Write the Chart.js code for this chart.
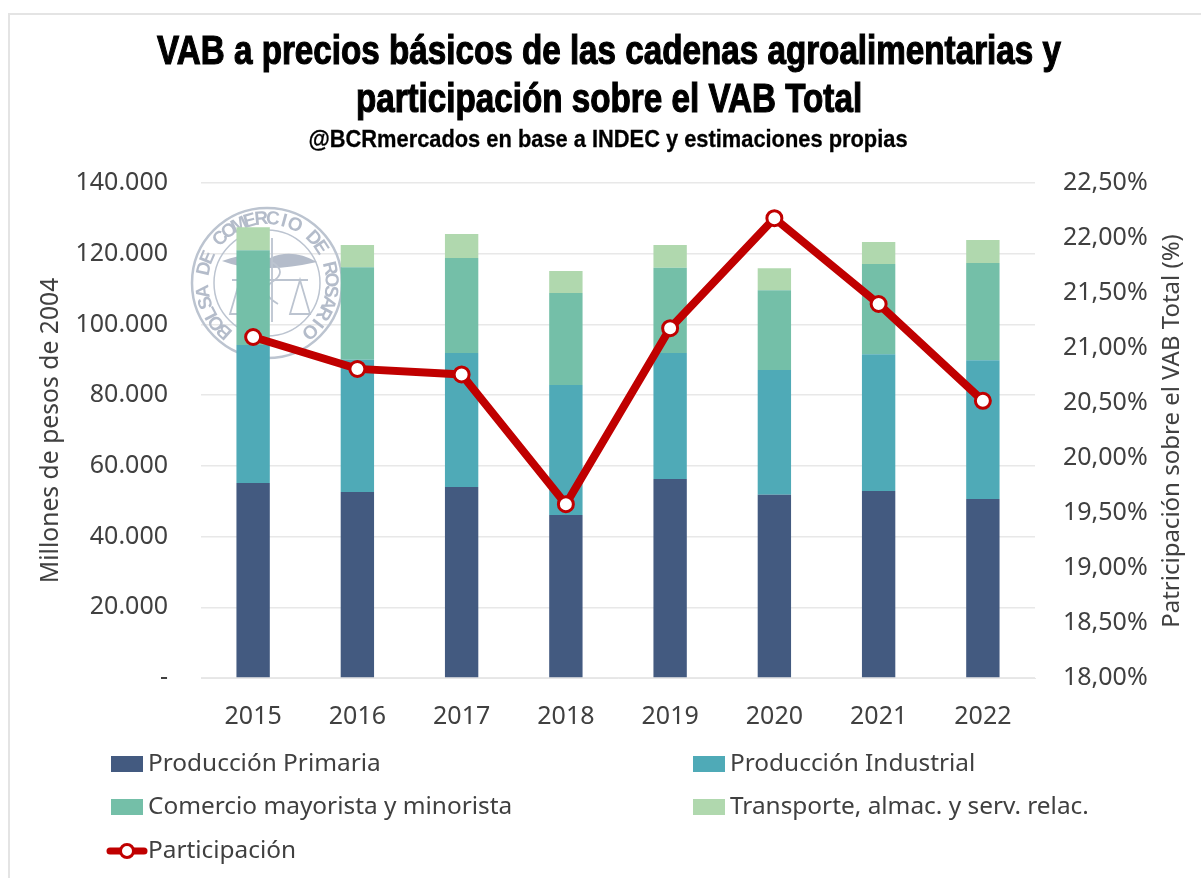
<!DOCTYPE html>
<html>
<head>
<meta charset="utf-8">
<script src="https://cdn.jsdelivr.net/npm/chart.js@4"></script>
<style>
  html, body { margin: 0; padding: 0; background: #fff; }
  #box { position: relative; width: 1201px; height: 878px; overflow: hidden; }
</style>
</head>
<body>
<div id="box"><canvas id="vabChart" width="1201" height="878"></canvas></div>
<script>
const years = ['2015', '2016', '2017', '2018', '2019', '2020', '2021', '2022'];
const primaria = [55150, 52600, 54000, 46100, 56300, 51800, 52900, 50600];
const industrial = [39050, 37400, 37900, 36800, 35600, 35300, 38700, 39300];
const comercio = [26800, 26200, 26900, 26000, 24100, 22600, 25500, 27500];
const transporte = [6500, 6300, 6800, 6200, 6500, 6200, 6200, 6500];
const participacion = [21.1, 20.81, 20.76, 19.58, 21.18, 22.18, 21.4, 20.52];

const titleLines = ['VAB a precios básicos de las cadenas agroalimentarias y', 'participación sobre el VAB Total'];
const subtitleText = '@BCRmercados en base a INDEC y estimaciones propias';
const rightAxisTitle = 'Patricipación sobre el VAB Total (%)';

const textColor = '#404040';
const uiFont = '"Noto Sans"';

// texto angosto: no hay fuente condensada instalada, se escala en x
function narrowText(c, txt, x, y, font, sx, heavy) {
  c.save();
  c.translate(x, y);
  c.scale(sx, 1);
  c.font = font;
  c.textAlign = 'center';
  c.textBaseline = 'middle';
  c.fillStyle = '#000';
  c.fillText(txt, 0, 0);
  if (heavy) {
    c.strokeStyle = '#000';
    c.lineWidth = heavy;
    c.strokeText(txt, 0, 0);
  }
  c.restore();
}

const frameAndTitle = {
  id: 'frameAndTitle',
  beforeDraw(chart) {
    const c = chart.ctx;
    c.save();
    c.strokeStyle = '#e4e4e4';
    c.lineWidth = 2;
    c.beginPath(); c.moveTo(9, 878); c.lineTo(9, 14); c.lineTo(1201, 14); c.stroke();
    c.restore();
    narrowText(c, titleLines[0], 609, 53, 'bold 41px "Liberation Sans"', 0.81, 1.2);
    narrowText(c, titleLines[1], 609, 101, 'bold 41px "Liberation Sans"', 0.81, 1.2);
    narrowText(c, subtitleText, 608, 140, 'bold 24px "Liberation Sans"', 0.91, 0.3);
  }
};

// sello de la Bolsa, va detras de las barras
const watermark = {
  id: 'watermark',
  beforeDatasetsDraw(chart) {
    const c = chart.ctx;
    const cx = 267, cy = 283;
    c.save();
    c.strokeStyle = '#bcc4d0';
    c.fillStyle = '#b4bcca';
    c.lineWidth = 2.5;
    c.beginPath(); c.arc(cx, cy, 75, 0, Math.PI * 2); c.stroke();
    c.lineWidth = 1.5;
    c.beginPath(); c.arc(cx, cy, 53, 0, Math.PI * 2); c.stroke();
    const txt = 'BOLSA DE COMERCIO DE ROSARIO';
    c.font = 'bold 19px "Liberation Sans"';
    c.textAlign = 'center';
    c.textBaseline = 'middle';
    const start = -Math.PI * 1.27, step = (Math.PI * 1.54) / (txt.length - 1);
    for (let i = 0; i < txt.length; i++) {
      const a = start + step * i;
      c.save();
      c.translate(cx + Math.cos(a) * 64, cy + Math.sin(a) * 64);
      c.rotate(a + Math.PI / 2);
      c.fillText(txt[i], 0, 0);
      c.restore();
    }
    // alas
    c.beginPath();
    c.moveTo(222, 261); c.quadraticCurveTo(252, 250, 270, 258);
    c.quadraticCurveTo(292, 248, 317, 262);
    c.quadraticCurveTo(290, 268, 270, 268);
    c.quadraticCurveTo(246, 270, 222, 261);
    c.fill();
    // balanza y vara
    c.lineWidth = 1.8;
    c.beginPath();
    c.moveTo(272, 238); c.lineTo(272, 322);
    c.moveTo(232, 280); c.lineTo(308, 280);
    c.moveTo(240, 280); c.lineTo(230, 314); c.lineTo(250, 314); c.closePath();
    c.moveTo(300, 280); c.lineTo(290, 314); c.lineTo(310, 314); c.closePath();
    c.moveTo(272, 262); c.quadraticCurveTo(288, 272, 272, 282);
    c.quadraticCurveTo(258, 292, 278, 304);
    c.stroke();
    c.restore();
  }
};

// leyenda en dos columnas y titulo del eje derecho (leido de abajo hacia arriba)
const legendAndAxis = {
  id: 'legendAndAxis',
  afterDraw(chart) {
    const c = chart.ctx;
    const slots = [[111, 764], [693, 764], [111, 807], [693, 807], [111, 851]];
    c.save();
    c.font = '24.4px ' + uiFont;
    c.textBaseline = 'middle';
    c.textAlign = 'left';
    chart.data.datasets.forEach((ds, i) => {
      const [x, y] = slots[i];
      if (ds.type === 'line') {
        c.strokeStyle = ds.borderColor;
        c.lineWidth = 7;
        c.lineCap = 'round';
        c.beginPath(); c.moveTo(x - 1, y); c.lineTo(x + 33, y); c.stroke();
        c.fillStyle = '#fff';
        c.lineWidth = 3;
        c.beginPath(); c.arc(x + 16, y, 6.5, 0, Math.PI * 2); c.fill(); c.stroke();
      } else {
        c.fillStyle = ds.backgroundColor;
        c.fillRect(x, y - 8, 32, 16);
      }
      c.fillStyle = textColor;
      c.fillText(ds.label, x + 37, y);
    });
    c.translate(1172, 431);
    c.rotate(-Math.PI / 2);
    c.textAlign = 'center';
    c.font = '24px ' + uiFont;
    c.fillText(rightAxisTitle, 0, 0);
    c.restore();
  }
};

new Chart(document.getElementById('vabChart').getContext('2d'), {
  data: {
    labels: years,
    datasets: [
      { type: 'bar', label: 'Producción Primaria', data: primaria, backgroundColor: '#435a80', yAxisID: 'y', order: 2 },
      { type: 'bar', label: 'Producción Industrial', data: industrial, backgroundColor: '#4faab7', yAxisID: 'y', order: 2 },
      { type: 'bar', label: 'Comercio mayorista y minorista', data: comercio, backgroundColor: '#74bfa8', yAxisID: 'y', order: 2 },
      { type: 'bar', label: 'Transporte, almac. y serv. relac.', data: transporte, backgroundColor: '#b0d8ae', yAxisID: 'y', order: 2 },
      {
        type: 'line', label: 'Participación', data: participacion, yAxisID: 'y1', order: 1,
        borderColor: '#c00000', borderWidth: 8, tension: 0,
        pointRadius: 7.5, pointBorderWidth: 3, pointBackgroundColor: '#fff', pointBorderColor: '#c00000'
      }
    ]
  },
  options: {
    responsive: false,
    animation: false,
    layout: { padding: { top: 183 } },
    datasets: { bar: { barPercentage: 0.32, categoryPercentage: 1 } },
    plugins: {
      legend: { display: false },
      tooltip: { enabled: false }
    },
    scales: {
      x: {
        stacked: true,
        grid: { display: false },
        border: { color: '#e6e6e6' },
        ticks: { color: textColor, font: { family: uiFont, size: 25 }, padding: 16 },
        afterFit(s) { s.height = 200; }
      },
      y: {
        stacked: true,
        min: 0, max: 140000,
        position: 'left',
        afterFit(s) { s.width = 201; },
        grid: { color: '#e8e8e8', lineWidth: 1.5, drawTicks: false },
        border: { display: false },
        title: { display: true, text: 'Millones de pesos de 2004', color: textColor, font: { family: uiFont, size: 24.7 }, padding: { top: 36, bottom: 0 } },
        ticks: {
          stepSize: 20000, padding: 33, color: textColor, font: { family: uiFont, size: 25 },
          callback: v => v === 0 ? '-' : v.toLocaleString('es-AR')
        }
      },
      y1: {
        stacked: false,
        min: 18, max: 22.5,
        position: 'right',
        afterFit(s) { s.width = 166; },
        grid: { display: false, drawTicks: false },
        border: { display: false },
        ticks: {
          stepSize: 0.5, padding: 28, color: textColor, font: { family: uiFont, size: 25 },
          callback: v => v.toFixed(2).replace('.', ',') + '%'
        }
      }
    }
  },
  plugins: [frameAndTitle, watermark, legendAndAxis]
});
</script>
</body>
</html>
